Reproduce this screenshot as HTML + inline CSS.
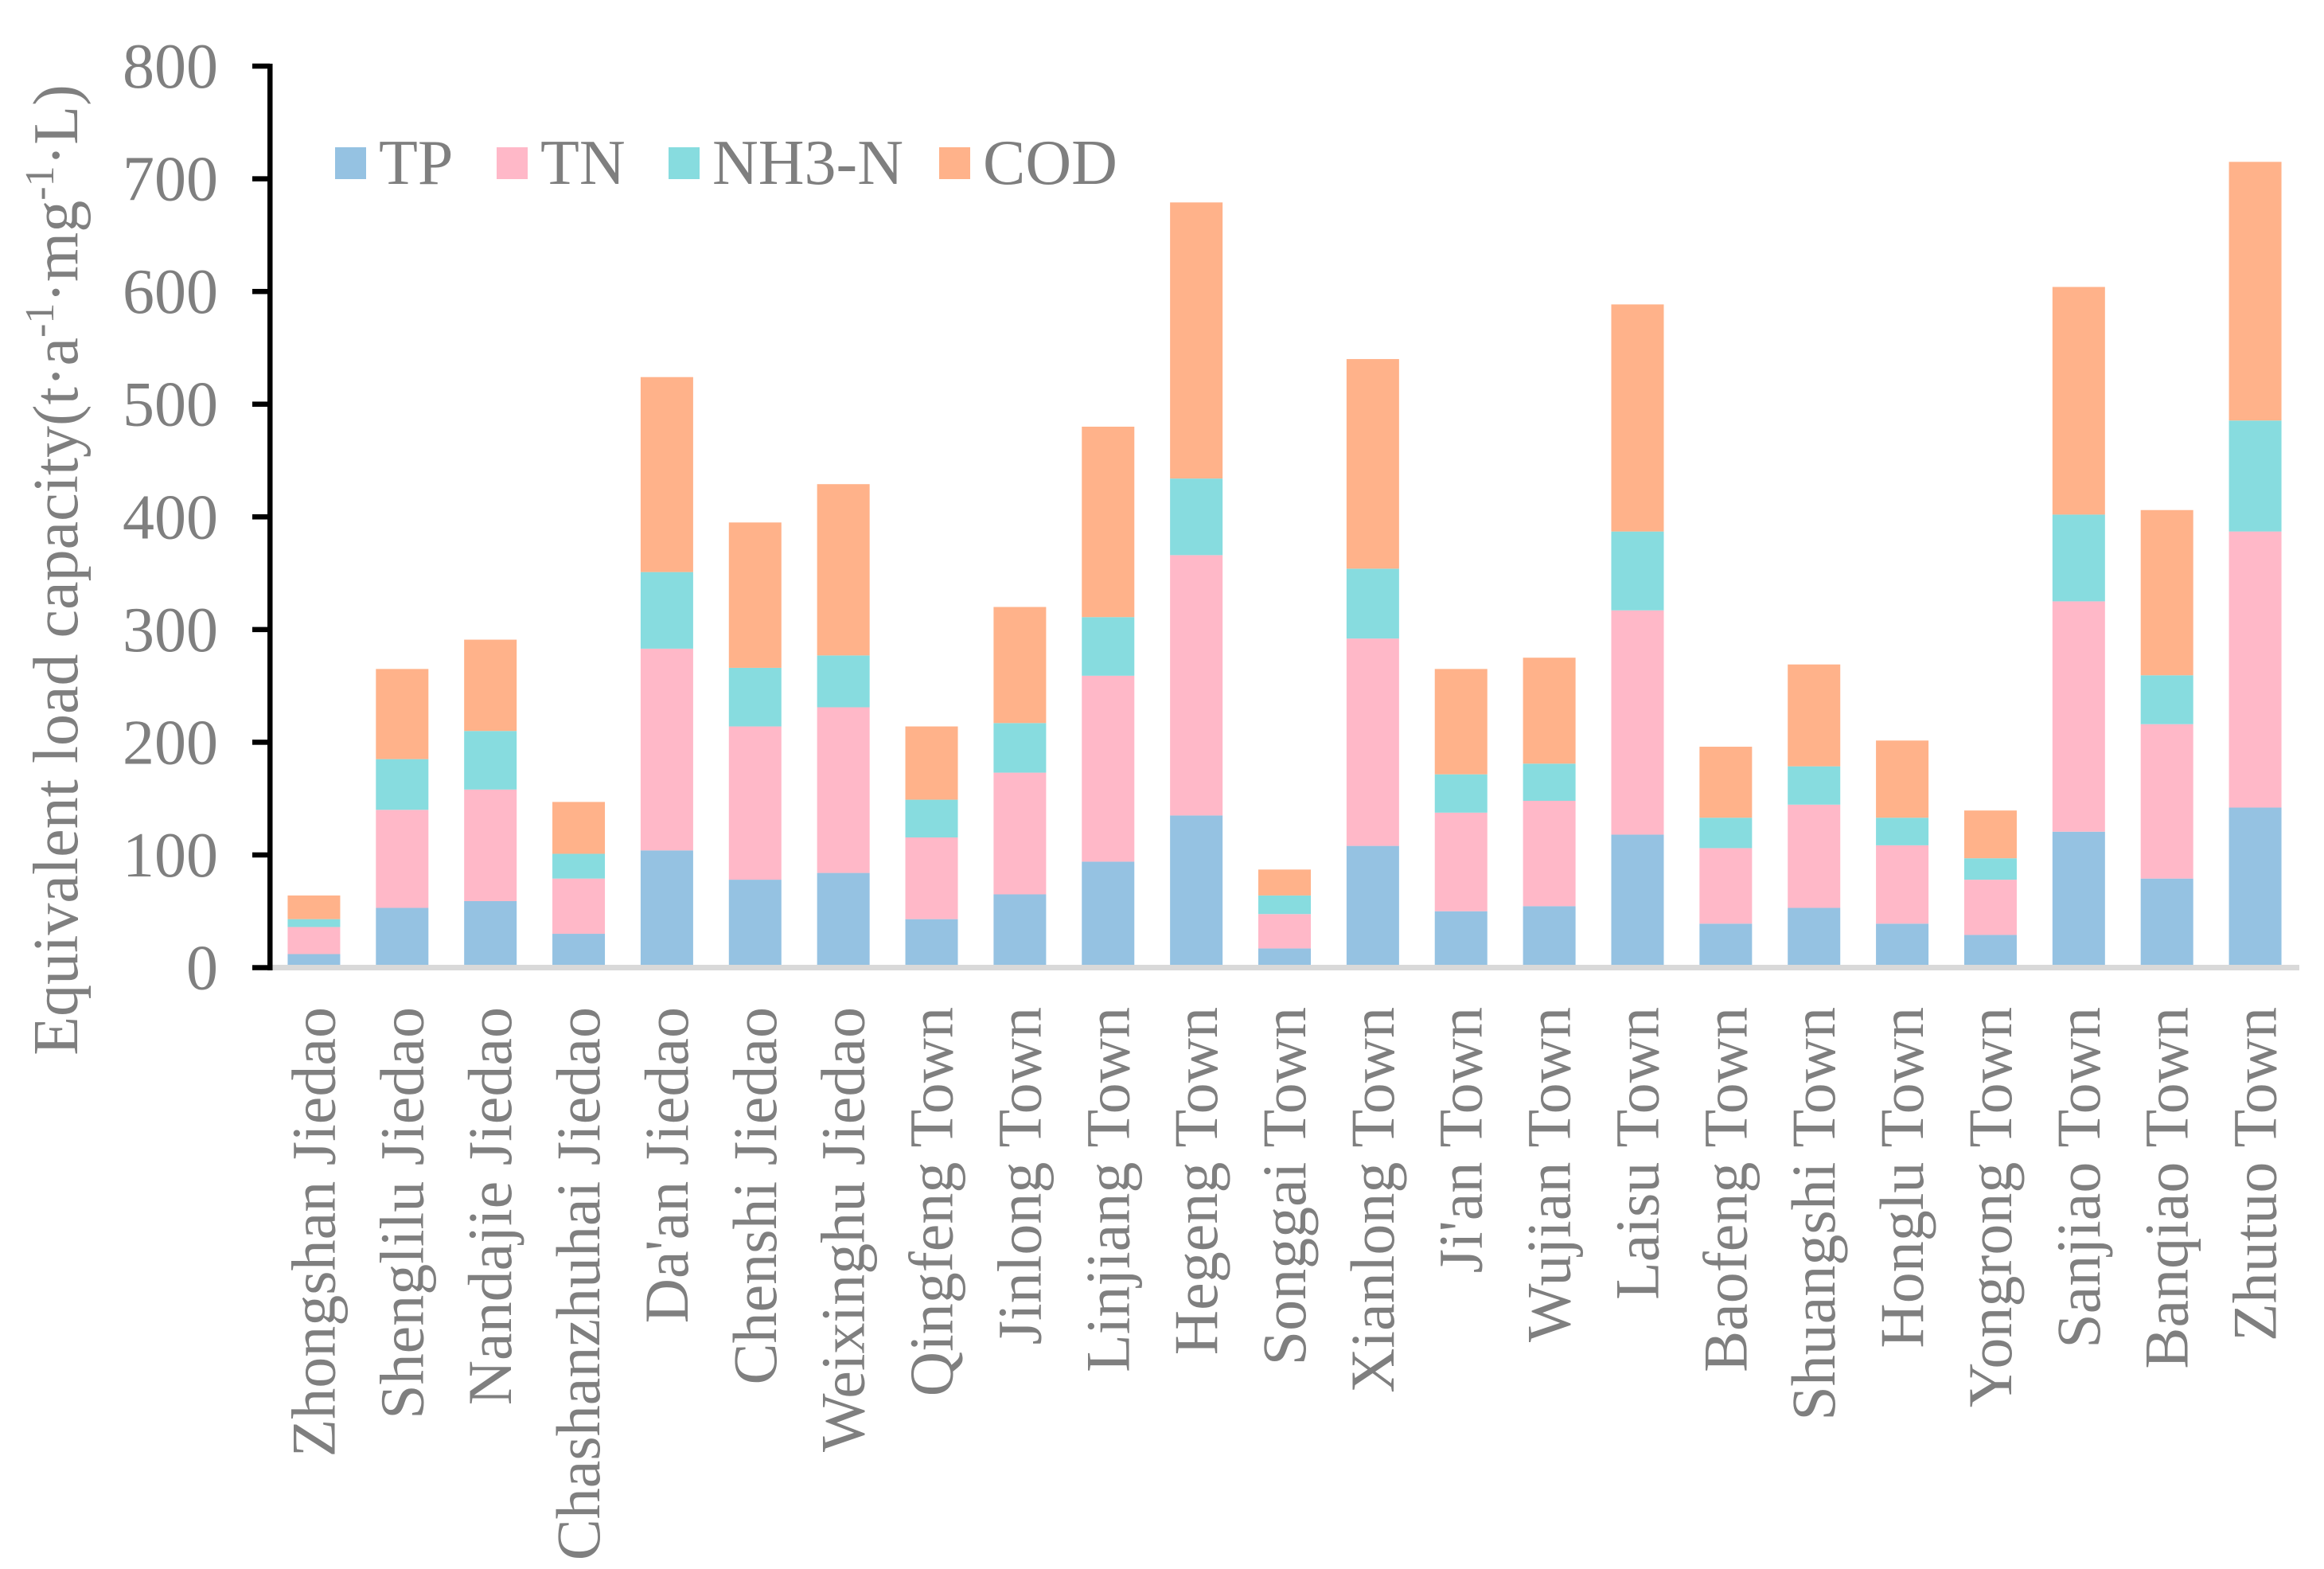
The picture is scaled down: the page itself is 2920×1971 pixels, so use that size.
<!DOCTYPE html>
<html><head><meta charset="utf-8"><style>
html,body{margin:0;padding:0;background:#fff;}
svg{display:block;font-family:"Liberation Serif",serif;}
</style></head><body>
<svg id="chart" width="2920" height="1971" viewBox="0 0 2920 1971" xmlns="http://www.w3.org/2000/svg">
<rect x="0" y="0" width="2920" height="1971" fill="#fff"/>
<g id="bars"></g>
<g id="axes"></g>
<g id="legend"></g>
<text transform="translate(97,716) rotate(-90)" text-anchor="middle" font-size="80" fill="#7f7f7f">Equivalent load capacity(t·a<tspan dy="-30" font-size="52">-1</tspan><tspan dy="30">·mg</tspan><tspan dy="-30" font-size="52">-1</tspan><tspan dy="30">·L)</tspan></text>
</svg>
<script>
const categories = ["Zhongshan Jiedao","Shenglilu Jiedao","Nandajie Jiedao","Chashanzhuhai Jiedao","Da'an Jiedao","Chenshi Jiedao","Weixinghu Jiedao","Qingfeng Town","Jinlong Town","Linjiang Town","Hegeng Town","Songgai Town","Xianlong Town","Ji'an Town","Wujian Town","Laisu Town","Baofeng Town","Shuangshi Town","Honglu Town","Yongrong Town","Sanjiao Town","Banqiao Town","Zhutuo Town"];
const tpValues  = [12,53,59,30,104,78,84,43,65,94,135,17,108,50,54.5,118,39,53,39,29,120.6,79,142];
const tnValues  = [24,87,99,49,179,136,147,72.5,108,165,231,30.5,184,87.5,93.5,199,67,91.6,69.5,49,204.4,137,245];
const nh3Values = [7,45,52,22,68,52,46,33.5,44,52,68,16.5,62,34,33,70,27,34,24.5,19,77,43.4,98.5];
const codValues = [21,80,81,46,173,129,152,65,103,169,245,23,186,93.5,94,201.5,63,90.4,68.5,42.4,202,146.6,229.5];
const seriesNames = ["TP","TN","NH3-N","COD"];
const yTicks = [0,100,200,300,400,500,600,700,800];

const NS = "http://www.w3.org/2000/svg";
const colors = ["#95C2E2","#FFB8C8","#87DCDF","#FFB28A"];
const X0 = 339, X1 = 2889, Y0 = 1215.5, YTOP = 83, YMAX = 800;
const band = (X1 - X0) / categories.length;
const xc = i => X0 + (i + 0.5) * band;
const y = v => Y0 - v / YMAX * (Y0 - YTOP);
function mk(tag, attrs, parent){ const e = document.createElementNS(NS, tag); for (const k in attrs) e.setAttribute(k, attrs[k]); parent.appendChild(e); return e; }

const barsG = document.getElementById('bars');
const series = [tpValues, tnValues, nh3Values, codValues];
const sKeys = ["tp","tn","nh3-n","cod"];
categories.forEach((c, i) => {
  let base = 0;
  series.forEach((arr, s) => {
    const v = arr[i];
    const r = mk('rect', {x: xc(i) - 33, y: y(base + v), width: 66, height: y(base) - y(base + v), fill: colors[s]}, barsG);
    
    
    base += v;
  });
  const t = mk('text', {transform: `translate(${xc(i) + 26},1265) rotate(-90)`, 'text-anchor': 'end', 'font-size': 78, fill: '#7f7f7f'}, barsG);
  
  
  t.textContent = c;
});

const axG = document.getElementById('axes');
const base = mk('rect', {x: X0, y: 1212, width: X1 - X0, height: 7, fill: '#d9d9d9'}, axG);


const yl = mk('rect', {x: 336, y: 80, width: 6.5, height: 1139, fill: '#000'}, axG);


yTicks.forEach(t => {
  const tk = mk('rect', {x: 317, y: y(t) - 3.2, width: 22, height: 6.5, fill: '#000'}, axG);
  
  
  const lb = mk('text', {x: 274, y: y(t) + 27, 'text-anchor': 'end', 'font-size': 80, fill: '#7f7f7f'}, axG);
  
  
  lb.textContent = t;
});

const lg = document.getElementById('legend');
const lx = [421, 624, 840, 1180];
seriesNames.forEach((n, s) => {
  const sw = mk('rect', {x: lx[s], y: 185, width: 39, height: 40, fill: colors[s]}, lg);
  
  
  const tx = mk('text', {x: lx[s] + 55, y: 231, 'font-size': 80, fill: '#7f7f7f'}, lg);
  
  
  tx.textContent = n;
});
</script>
</body></html>
